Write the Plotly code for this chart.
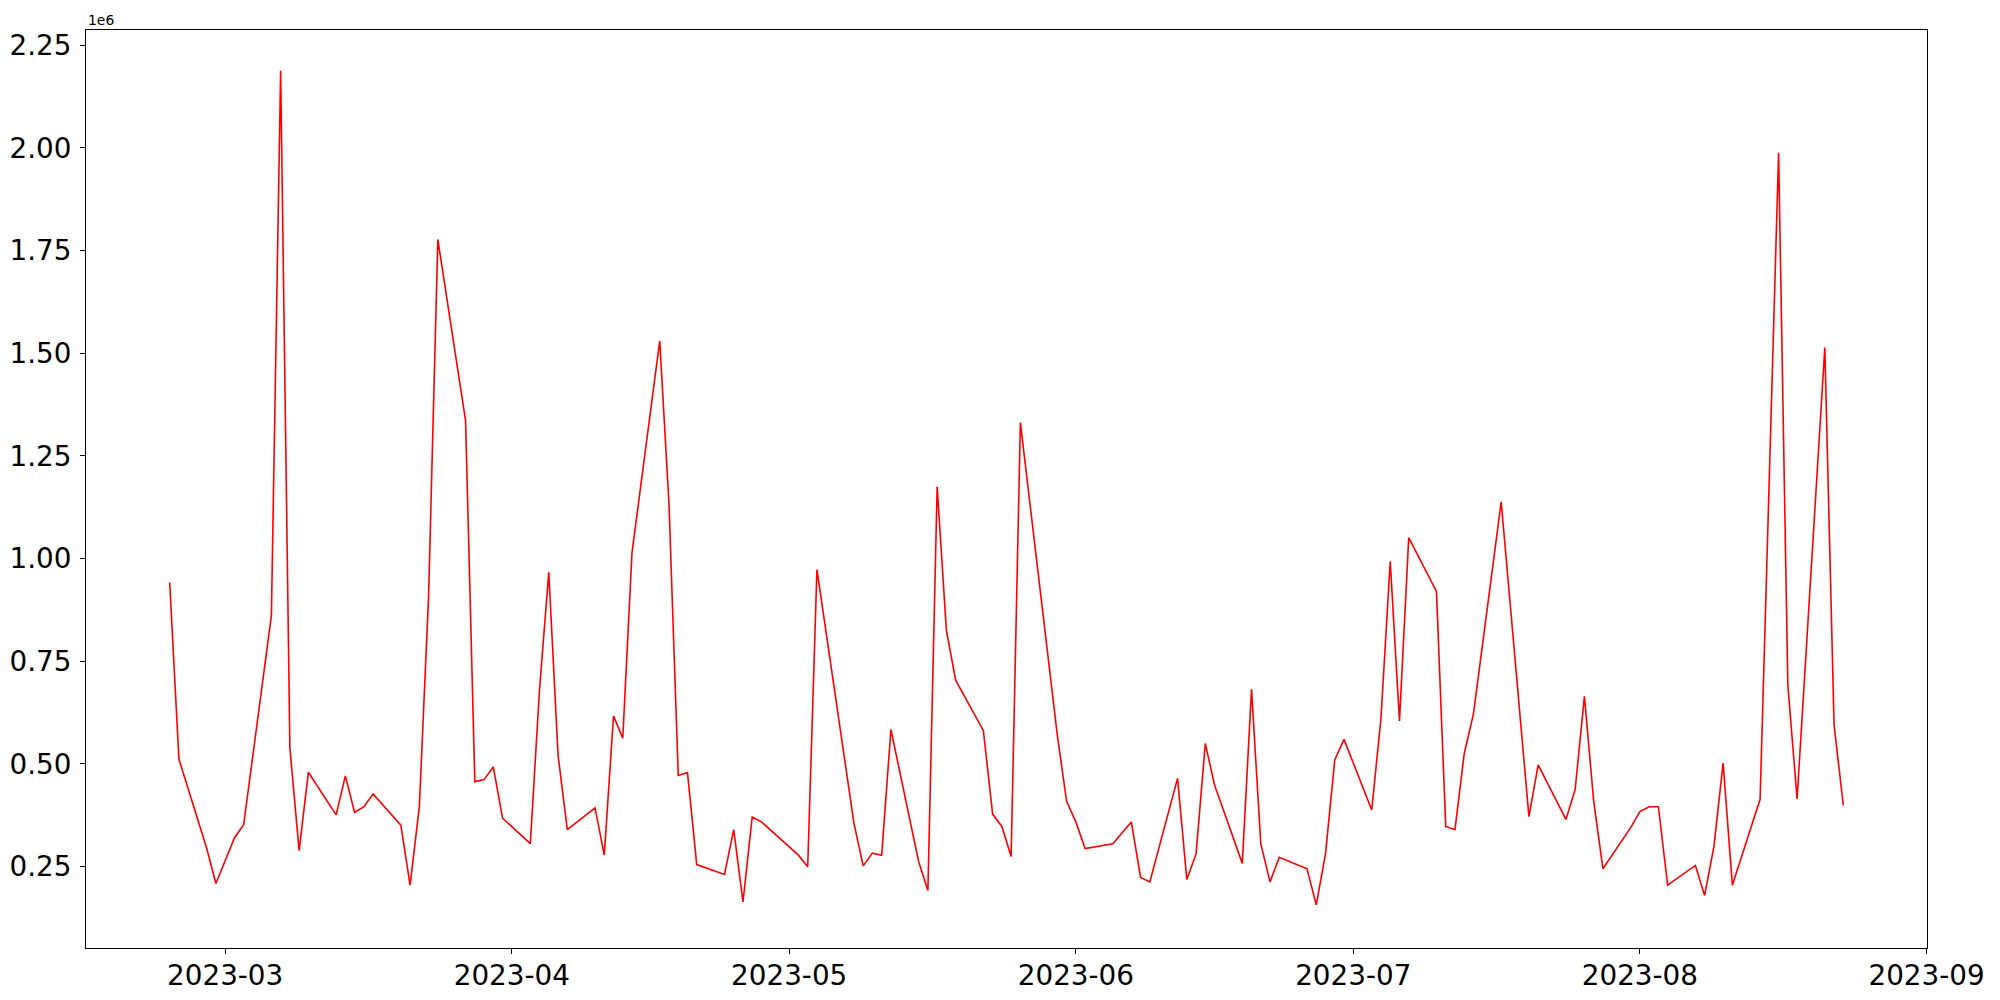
import plotly.graph_objects as go

dates = [
    "2023-02-23", "2023-02-24", "2023-02-27", "2023-02-28", "2023-03-02", "2023-03-03",
    "2023-03-06", "2023-03-07", "2023-03-08", "2023-03-09", "2023-03-10",
    "2023-03-13", "2023-03-14", "2023-03-15", "2023-03-16", "2023-03-17",
    "2023-03-20", "2023-03-21", "2023-03-22", "2023-03-23", "2023-03-24",
    "2023-03-27", "2023-03-28", "2023-03-29", "2023-03-30", "2023-03-31",
    "2023-04-03", "2023-04-04", "2023-04-05", "2023-04-06", "2023-04-07",
    "2023-04-10", "2023-04-11", "2023-04-12", "2023-04-13", "2023-04-14",
    "2023-04-17", "2023-04-18", "2023-04-19", "2023-04-20", "2023-04-21",
    "2023-04-24", "2023-04-25", "2023-04-26", "2023-04-27", "2023-04-28",
    "2023-05-02", "2023-05-03", "2023-05-04",
    "2023-05-08", "2023-05-09", "2023-05-10", "2023-05-11", "2023-05-12",
    "2023-05-15", "2023-05-16", "2023-05-17", "2023-05-18", "2023-05-19",
    "2023-05-22", "2023-05-23", "2023-05-24", "2023-05-25", "2023-05-26",
    "2023-05-30", "2023-05-31", "2023-06-01", "2023-06-02",
    "2023-06-05", "2023-06-07", "2023-06-08", "2023-06-09",
    "2023-06-12", "2023-06-13", "2023-06-14", "2023-06-15", "2023-06-16",
    "2023-06-19", "2023-06-20", "2023-06-21", "2023-06-22", "2023-06-23",
    "2023-06-26", "2023-06-27", "2023-06-28", "2023-06-29", "2023-06-30",
    "2023-07-03", "2023-07-04", "2023-07-05", "2023-07-06", "2023-07-07",
    "2023-07-10", "2023-07-11", "2023-07-12", "2023-07-13", "2023-07-14",
    "2023-07-17", "2023-07-20", "2023-07-21",
    "2023-07-24", "2023-07-25", "2023-07-26", "2023-07-27", "2023-07-28",
    "2023-07-31", "2023-08-01", "2023-08-02", "2023-08-03", "2023-08-04",
    "2023-08-07", "2023-08-08", "2023-08-09", "2023-08-10", "2023-08-11",
    "2023-08-14", "2023-08-16", "2023-08-17", "2023-08-18",
    "2023-08-21", "2023-08-22", "2023-08-23",
]

volume = [
    942e3, 512e3, 295e3, 209e3, 320e3, 352e3,
    861e3, 2188e3, 539e3, 289e3, 480e3,
    376e3, 471e3, 382e3, 396e3, 427e3,
    351e3, 205e3, 396e3, 908e3, 1777e3,
    1336e3, 457e3, 462e3, 493e3, 368e3,
    306e3, 682e3, 967e3, 522e3, 340e3,
    393e3, 278e3, 617e3, 563e3, 1015e3,
    1530e3, 1133e3, 472e3, 479e3, 255e3,
    231e3, 340e3, 164e3, 371e3, 359e3,
    278e3, 250e3, 973e3,
    356e3, 252e3, 283e3, 278e3, 584e3,
    262e3, 192e3, 1175e3, 825e3, 704e3,
    581e3, 378e3, 348e3, 275e3, 1331e3,
    569e3, 409e3, 359e3, 294e3,
    306e3, 359e3, 224e3, 213e3,
    465e3, 219e3, 281e3, 550e3, 449e3,
    258e3, 682e3, 306e3, 213e3, 273e3,
    245e3, 157e3, 281e3, 510e3, 560e3,
    388e3, 612e3, 993e3, 605e3, 1051e3,
    920e3, 348e3, 340e3, 525e3, 622e3,
    1138e3, 372e3, 498e3,
    365e3, 438e3, 665e3, 410e3, 245e3,
    345e3, 384e3, 396e3, 396e3, 205e3,
    253e3, 180e3, 298e3, 502e3, 205e3,
    414e3, 1988e3, 692e3, 415e3,
    1514e3, 595e3, 399e3,
]

x_tick_vals = ["2023-03-01", "2023-04-01", "2023-05-01", "2023-06-01",
               "2023-07-01", "2023-08-01", "2023-09-01"]
x_tick_text = ["2023-03", "2023-04", "2023-05", "2023-06",
               "2023-07", "2023-08", "2023-09"]
y_tick_vals = [250e3, 500e3, 750e3, 1000e3, 1250e3, 1500e3, 1750e3, 2000e3, 2250e3]
y_tick_text = ["0.25", "0.50", "0.75", "1.00", "1.25", "1.50", "1.75", "2.00", "2.25"]

fig = go.Figure()
fig.add_trace(go.Scatter(
    x=dates, y=volume, mode="lines",
    line=dict(color="red", width=1.6),
    showlegend=False, hoverinfo="x+y",
))

axis_common = dict(
    automargin=False,
    showgrid=False, zeroline=False,
    showline=True, mirror=True, linecolor="black", linewidth=1.1,
    ticks="outside", ticklen=5, tickwidth=1.1, tickcolor="black",
    tickfont=dict(family="DejaVu Sans", size=27.8, color="black"),
)

fig.update_layout(
    template="none",
    width=2000, height=1000,
    paper_bgcolor="white", plot_bgcolor="white",
    margin=dict(l=86, r=73, t=30, b=52, pad=0),
    font=dict(family="DejaVu Sans", color="black"),
    xaxis=dict(
        type="date",
        range=["2023-02-13 22:48", "2023-09-01 01:12"],
        tickvals=x_tick_vals, ticktext=x_tick_text,
        ticklabelstandoff=-2,
        **axis_common,
    ),
    yaxis=dict(
        range=[52e3, 2287e3],
        tickvals=y_tick_vals, ticktext=y_tick_text,
        ticklabelstandoff=3,
        **axis_common,
    ),
    annotations=[dict(
        text="1e6", xref="paper", yref="paper", x=0, y=1,
        xanchor="left", yanchor="bottom", showarrow=False,
        font=dict(family="DejaVu Sans", size=13.9, color="black"),
        yshift=0,
    )],
)

fig.write_html(
    "out.html",
    config={"displayModeBar": False},
    post_script="document.body.style.margin='0';document.body.style.padding='0';document.body.style.overflow='hidden';",
)
